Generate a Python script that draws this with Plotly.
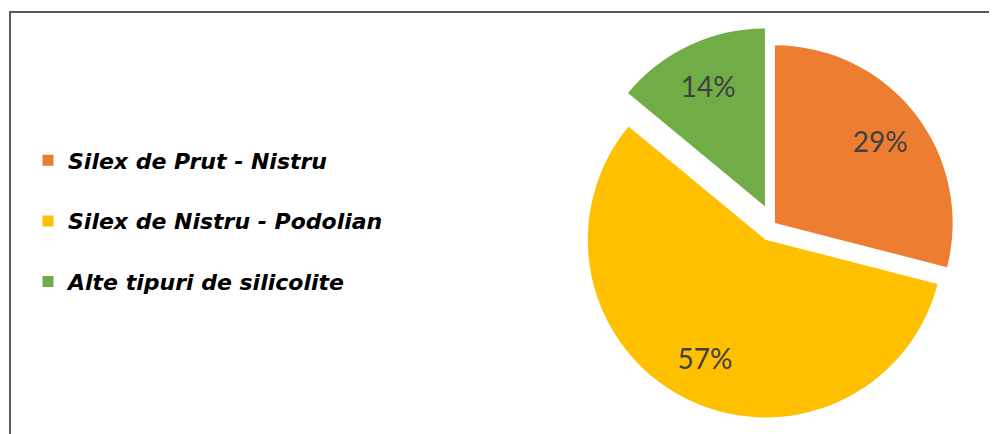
import plotly.graph_objects as go

labels = ["Silex de Prut - Nistru", "Silex de Nistru - Podolian", "Alte tipuri de silicolite"]
values = [29, 57, 14]
colors = ["#ED7D31", "#FFC000", "#70AD47"]
pulls = [0.011, 0.098, 0.112]

# the page body has an 8px margin, so the figure is drawn 8px in from the top-left
W, H = 989, 426
dom_x = [0.5717, 0.9761]
dom_y = [0.0286, 0.9563]

fig = go.Figure()

# main pie
fig.add_trace(go.Pie(
    labels=labels, values=values, sort=False, direction="clockwise", rotation=0,
    marker=dict(colors=colors, line=dict(width=0)), pull=pulls,
    textinfo="none", hoverinfo="label+percent", showlegend=False,
    domain=dict(x=dom_x, y=dom_y),
))
# transparent donut overlay used only for label placement
fig.add_trace(go.Pie(
    labels=labels, values=values, sort=False, direction="clockwise", rotation=0,
    marker=dict(colors=["rgba(0,0,0,0)"] * 3, line=dict(width=0)), pull=pulls,
    hole=0.5, textinfo="percent", textposition="inside",
    insidetextorientation="horizontal",
    textfont=dict(family="Lato", size=28, color="#404040"),
    hoverinfo="skip", showlegend=False,
    domain=dict(x=dom_x, y=dom_y),
))

# legend entries
for i, (lab, col) in enumerate(zip(labels, colors)):
    fig.add_trace(go.Scatter(
        x=[None], y=[None], mode="markers", name=lab,
        marker=dict(symbol="square", size=11, color=col),
        legendgroup=f"g{i}", showlegend=True,
    ))

fig.update_layout(
    width=W, height=H,
    margin=dict(l=0, r=0, t=0, b=0),
    paper_bgcolor="white", plot_bgcolor="white",
    xaxis=dict(visible=False), yaxis=dict(visible=False),
    legend=dict(
        x=20 / W, y=1 - 131.5 / H, xanchor="left", yanchor="top",
        traceorder="grouped", tracegroupgap=29,
        font=dict(family="DejaVu Sans", size=22, color="black", weight="bold", style="italic"),
        bgcolor="rgba(0,0,0,0)",
    ),
    shapes=[dict(
        type="path", xref="paper", yref="paper",
        path=f"M {2/W},-0.02 L {2/W},{1-4/H} L 1.02,{1-4/H}",
        line=dict(color="#595959", width=2),
    )],
)

fig.write_html("out.html")
